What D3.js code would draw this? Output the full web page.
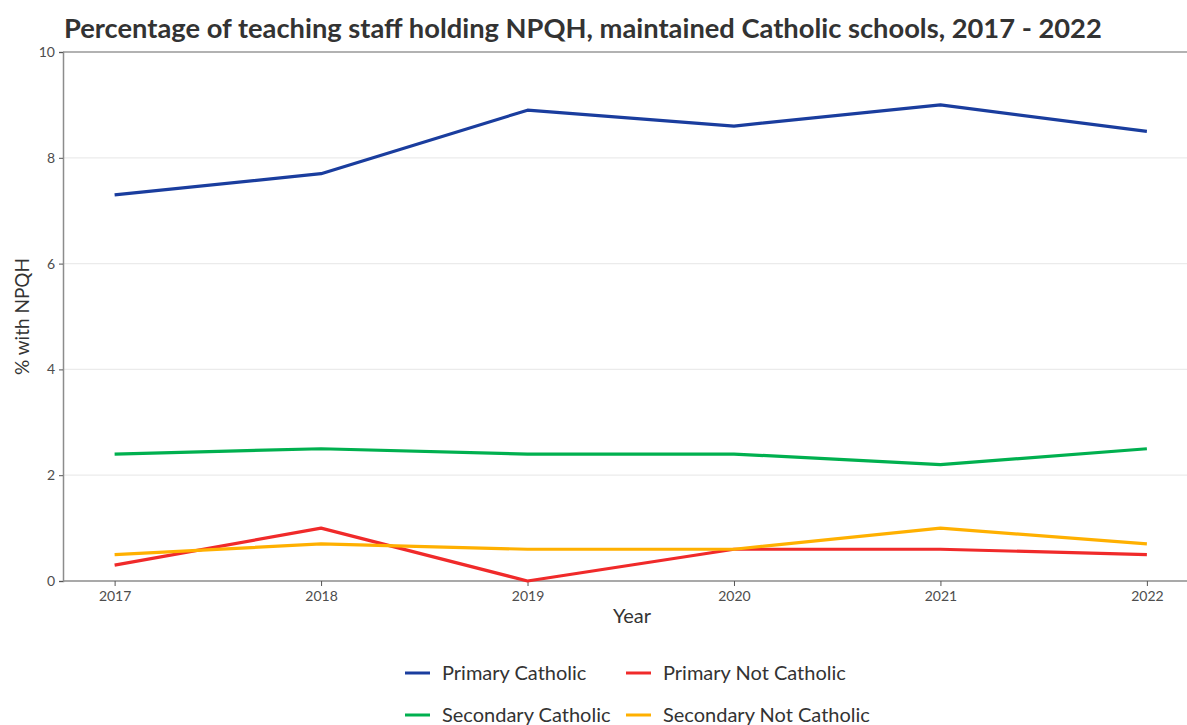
<!DOCTYPE html>
<html><head><meta charset="utf-8">
<script src="https://cdn.jsdelivr.net/npm/d3@7"></script>
<style>
body{margin:0;background:#fff;}
svg{display:block;font-family:Lato,"Open Sans",sans-serif;}
</style></head>
<body><svg id="c" width="1187" height="725"></svg>
<script>
const years = [2017, 2018, 2019, 2020, 2021, 2022];
const primaryCatholic = [7.3, 7.7, 8.9, 8.6, 9.0, 8.5];
const primaryNotCatholic = [0.3, 1.0, 0.0, 0.6, 0.6, 0.5];
const secondaryCatholic = [2.4, 2.5, 2.4, 2.4, 2.2, 2.5];
const secondaryNotCatholic = [0.5, 0.7, 0.6, 0.6, 1.0, 0.7];
const seriesNames = ["Primary Catholic", "Primary Not Catholic", "Secondary Catholic", "Secondary Not Catholic"];
const seriesColors = ["#1a3d9e", "#f02a2a", "#00b04f", "#ffb000"];
const yTicks = [0, 2, 4, 6, 8, 10];

const series = [primaryCatholic, primaryNotCatholic, secondaryCatholic, secondaryNotCatholic]
  .map((v, i) => ({name: seriesNames[i], color: seriesColors[i], values: v.map((yv, j) => ({x: years[j], y: yv}))}));

const svg = d3.select("#c");
const mLeft = 63, mTop = 52, mBottom = 581;
const x = d3.scaleLinear().domain([2016.75, 2022.25]).range([mLeft, 1198.5]);
const y = d3.scaleLinear().domain([0, 10]).range([mBottom, mTop]);

// gridlines
svg.append("g").selectAll("line").data(yTicks.filter(d => d > 0 && d < 10)).join("line")
  .attr("x1", mLeft).attr("x2", 1187).attr("y1", d => y(d)).attr("y2", d => y(d))
  .attr("stroke", "#ebebeb").attr("stroke-width", 1.2);

// top border
svg.append("line").attr("x1", mLeft).attr("x2", 1187).attr("y1", y(10)).attr("y2", y(10))
  .attr("stroke", "#999").attr("stroke-width", 1.5);

// axes
const yAxis = svg.append("g").attr("transform", `translate(${mLeft},0)`)
  .call(d3.axisLeft(y).tickValues(yTicks).tickSize(4).tickPadding(4));
const xAxis = svg.append("g").attr("transform", `translate(0,${mBottom})`)
  .call(d3.axisBottom(x).tickValues(years).tickFormat(d3.format("d")).tickSize(5).tickPadding(5));
[yAxis, xAxis].forEach(a => {
  a.select(".domain").attr("stroke", "#8c8c8c").attr("stroke-width", 1.5);
  a.selectAll(".tick line").attr("stroke", "#555");
  a.selectAll(".tick text").attr("fill", "#4d4d4d").style("font-size", "14px").style("font-family", "Lato,sans-serif");
});
xAxis.select(".domain").attr("d", `M${mLeft},0H1187`);

// lines
const line = d3.line().x(d => x(d.x)).y(d => y(d.y));
svg.append("g").selectAll("path").data(series).join("path")
  .attr("d", d => line(d.values)).attr("fill", "none")
  .attr("stroke", d => d.color).attr("stroke-width", 3.2).attr("stroke-linejoin", "round");

// title
svg.append("text").attr("x", 64).attr("y", 38).text("Percentage of teaching staff holding NPQH, maintained Catholic schools, 2017 - 2022")
  .attr("fill", "#333").style("font-size", "27.3px").style("font-weight", "bold");

// axis titles
svg.append("text").attr("transform", `translate(29,${(mTop + mBottom) / 2}) rotate(-90)`).attr("text-anchor", "middle")
  .text("% with NPQH").attr("fill", "#333").style("font-size", "19px");
svg.append("text").attr("x", 632).attr("y", 623).attr("text-anchor", "middle")
  .text("Year").attr("fill", "#333").style("font-size", "20px");

// legend
const legPos = [[405, 673], [626, 673], [405, 715], [626, 715]];
const leg = svg.append("g").selectAll("g").data(series).join("g")
  .attr("transform", (d, i) => `translate(${legPos[i][0]},${legPos[i][1]})`);
leg.append("line").attr("x1", 0).attr("x2", 25).attr("stroke", d => d.color).attr("stroke-width", 3);
leg.append("text").attr("x", 37).attr("y", 7).text(d => d.name).attr("fill", "#333").style("font-size", "20px");
</script></body></html>
